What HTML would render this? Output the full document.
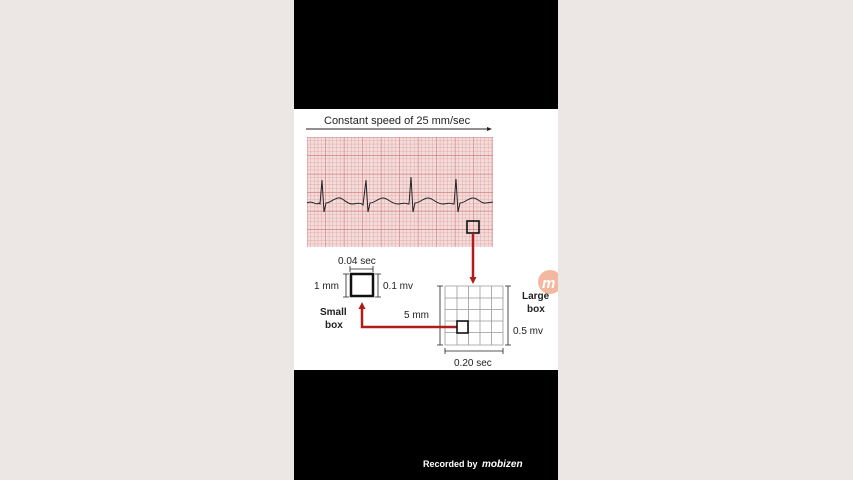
<!DOCTYPE html>
<html><head><style>
body{margin:0;width:853px;height:480px;background:#ece6e4;overflow:hidden;font-family:"Liberation Sans",sans-serif}
</style></head><body>
<svg width="853" height="480" style="position:absolute;left:0;top:0">
<defs>
<pattern id="s" width="3.7" height="3.7" patternUnits="userSpaceOnUse"><path d="M3.7 0V3.7H0" fill="none" stroke="#d99a9a" stroke-width="0.7"/></pattern>
<pattern id="b" width="18.5" height="18.5" patternUnits="userSpaceOnUse" x="307" y="137"><path d="M0 0V18.5M0 0H18.5" fill="none" stroke="#cf7f7f" stroke-width="0.9"/></pattern>
<clipPath id="c"><rect x="294" y="109" width="264" height="261"/></clipPath>
</defs>
<rect x="294" y="0" width="264" height="480" fill="#000"/>
<rect x="294" y="109" width="264" height="261" fill="#fff"/>
<text x="324" y="124" font-size="11" fill="#222">Constant speed of 25 mm/sec</text>
<line x1="306" y1="129" x2="490" y2="129" stroke="#222" stroke-width="1"/>
<path d="M487 127L492 129L487 131Z" fill="#222"/>
<rect x="307" y="137" width="186" height="110" fill="#f4dcda"/>
<rect x="307" y="137" width="186" height="110" fill="url(#s)"/>
<rect x="307" y="137" width="186" height="110" fill="url(#b)"/>
<path d="M307 203 C312 200,316 206,319 203 L320 204 L322 180 L324 212 L326 203 C330 203,333 199,338 198 C343 197,346 204,352 204 C357 204,358 202,362 204 L363 205 L366 180 L368 212 L370 203 C375 203,378 198,383 198 C388 198,391 204,398 204 C402 204,404 202,408 204 L409 204 L411 177 L413 212 L415 203 C420 203,423 198,428 198 C433 198,436 204,443 204 C447 204,449 202,453 204 L454 204 L456 179 L458 212 L460 203 C465 203,468 198,473 198 C478 198,481 204,486 203 L493 202" fill="none" stroke="#222" stroke-width="1"/>
<rect x="467" y="221" width="12" height="12" fill="none" stroke="#111" stroke-width="1.6"/>
<line x1="473" y1="233" x2="473" y2="278" stroke="#b01c1c" stroke-width="2.5"/>
<path d="M469.5 277L476.5 277L473 284Z" fill="#b01c1c"/>
<text x="338" y="264" font-size="10" fill="#222">0.04 sec</text>
<path d="M350 269H373M350 266V272M373 266V272" stroke="#222" stroke-width="0.8" fill="none"/>
<rect x="351" y="274" width="22" height="22" fill="#fff" stroke="#111" stroke-width="2.5"/>
<path d="M346 274V297M343 274H349M343 297H349M378 274V297M375 274H381M375 297H381" stroke="#222" stroke-width="0.8" fill="none"/>
<text x="314" y="289" font-size="10" fill="#222">1 mm</text>
<text x="383" y="289" font-size="10" fill="#222">0.1 mv</text>
<text x="320" y="315" font-size="10" font-weight="bold" fill="#222">Small</text>
<text x="325" y="328" font-size="10" font-weight="bold" fill="#222">box</text>
<g stroke="#999" stroke-width="0.8">
<path d="M445 286V345M457 286V345M468.5 286V345M480 286V345M491.5 286V345M503 286V345M445 286H503M445 298H503M445 309.5H503M445 321H503M445 332.5H503M445 345H503"/>
</g>
<path d="M440 286V345M437 286H443M437 345H443M508 286V345M505 286H511M505 345H511M445 351H503M445 348V354M503 348V354" stroke="#222" stroke-width="0.8" fill="none"/>
<path d="M457 327H362V308" fill="none" stroke="#b01c1c" stroke-width="2.5"/>
<path d="M358.5 309L365.5 309L362 302Z" fill="#b01c1c"/>
<rect x="457" y="321" width="11" height="12" fill="#fff" stroke="#111" stroke-width="1.6"/>
<text x="404" y="318" font-size="10" fill="#222">5 mm</text>
<g clip-path="url(#c)">
<circle cx="550" cy="282" r="12" fill="#f0a080" opacity="0.75"/>
<text x="542" y="288" font-size="15" font-weight="bold" fill="#fff" font-style="italic">m</text>
</g>
<text x="522" y="299" font-size="10" font-weight="bold" fill="#222">Large</text>
<text x="527" y="312" font-size="10" font-weight="bold" fill="#222">box</text>
<text x="513" y="334" font-size="10" fill="#222">0.5 mv</text>
<text x="454" y="366" font-size="10" fill="#222">0.20 sec</text>
<text x="423" y="467" font-size="9" font-weight="bold" fill="#fff">Recorded by</text>
<text x="482" y="467" font-size="10" font-weight="bold" font-style="italic" fill="#fff">mobizen</text>
</svg>
</body></html>
